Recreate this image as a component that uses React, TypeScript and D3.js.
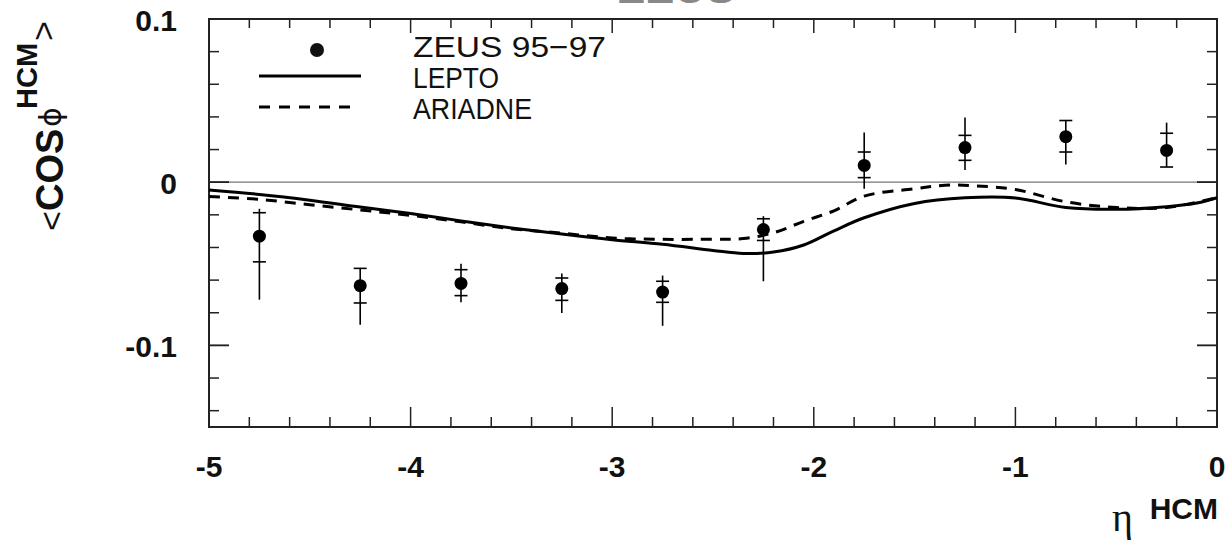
import React from "react";
import * as d3 from "d3";

// ---- data ----
const etaPts = [-4.75, -4.25, -3.75, -3.25, -2.75, -2.25, -1.75, -1.25, -0.75, -0.25];
const zeusVal = [-0.0331, -0.0634, -0.062, -0.0652, -0.0673, -0.029, 0.0103, 0.0212, 0.0279, 0.0195];
const statHi = [-0.0187, -0.0528, -0.0536, -0.0587, -0.0607, -0.0224, 0.0185, 0.0287, 0.0378, 0.03];
const statLo = [-0.0488, -0.074, -0.0695, -0.0724, -0.0736, -0.0357, 0.0028, 0.0134, 0.0185, 0.0093];
const totHi = [-0.0163, -0.0528, -0.0499, -0.056, -0.0572, -0.0208, 0.0304, 0.0396, 0.0378, 0.0365];
const totLo = [-0.072, -0.0874, -0.0736, -0.0802, -0.088, -0.0607, -0.004, 0.0074, 0.0109, 0.0093];

const leptoEta = [-5, -4.75, -4.5, -4.25, -4, -3.75, -3.5, -3.25, -3, -2.75, -2.5, -2.35, -2.2, -2.05, -1.9, -1.75, -1.5, -1.25, -1, -0.75, -0.5, -0.25, -0.1, 0];
const leptoVal = [-0.0048, -0.0075, -0.011, -0.0152, -0.0192, -0.0237, -0.028, -0.0318, -0.0352, -0.038, -0.0418, -0.0437, -0.0428, -0.0385, -0.0298, -0.0218, -0.013, -0.0096, -0.0097, -0.0155, -0.0166, -0.015, -0.0128, -0.0095];
const ariadneEta = [-5, -4.75, -4.5, -4.25, -4, -3.75, -3.5, -3.25, -3, -2.75, -2.5, -2.35, -2.2, -2.05, -1.9, -1.75, -1.5, -1.35, -1.2, -1, -0.75, -0.5, -0.25, 0];
const ariadneVal = [-0.0088, -0.0105, -0.0138, -0.017, -0.0203, -0.0243, -0.0285, -0.0312, -0.0342, -0.035, -0.0349, -0.0345, -0.031, -0.024, -0.0175, -0.0085, -0.004, -0.0019, -0.0022, -0.0045, -0.012, -0.0155, -0.0155, -0.0095];

const xMajor = [-5, -4, -3, -2, -1, 0];
const xMinor = d3.range(-5, 0.001, 0.2);
const yMajor = [0.1, 0, -0.1];
const yMinor = d3.range(-0.14, 0.1, 0.02);
const yLabels = ["0.1", "0", "-0.1"];
const legendItems = ["ZEUS 95\u221297", "LEPTO", "ARIADNE"];

const W = 1229, H = 551;
const L = 209, R = 1217, T = 19, B = 427;
const FONT = "'Liberation Sans', Arial, Helvetica, sans-serif";

export default function App() {
  const x = d3.scaleLinear().domain([-5, 0]).range([L, R]);
  const y = d3.scaleLinear().domain([-0.15, 0.1]).range([B, T]);
  const curve = d3.curveCatmullRom.alpha(0.5);
  const lineGen = d3.line<[number, number]>().x(d => x(d[0])).y(d => y(d[1])).curve(curve);
  const lepto = lineGen(leptoEta.map((e, i) => [e, leptoVal[i]]));
  const ariadne = lineGen(ariadneEta.map((e, i) => [e, ariadneVal[i]]));
  const isMajX = (v: number) => Math.abs(v - Math.round(v)) < 1e-6;
  const isMajY = (v: number) => yMajor.some(m => Math.abs(m - v) < 1e-6);

  return (
    <svg width={W} height={H} style={{ position: "absolute", left: 0, top: 0, background: "#fff" }}>
      <rect x={0} y={0} width={W} height={H} fill="#fff" />
      {/* title, clipped by the top edge as in the source */}
      <text x={618} y={3} fontFamily={FONT} fontWeight="bold" fontSize={44} fill="#888">ZEUS</text>

      {/* zero line */}
      <line x1={L} x2={R} y1={y(0)} y2={y(0)} stroke="#777" strokeWidth={1.2} />

      {/* ticks */}
      {xMinor.map((v, i) => {
        const len = isMajX(v) ? 20 : 10;
        const lenTop = isMajX(v) ? 14 : 9;
        return (
          <g key={"xt" + i} stroke="#222" strokeWidth={1.5}>
            <line x1={x(v)} x2={x(v)} y1={B} y2={B - len} />
            <line x1={x(v)} x2={x(v)} y1={T} y2={T + lenTop} />
          </g>
        );
      })}
      {yMinor.concat(yMajor).map((v, i) => {
        const len = isMajY(v) ? 20 : 10;
        return (
          <g key={"yt" + i} stroke="#222" strokeWidth={1.5}>
            <line x1={L} x2={L + len} y1={y(v)} y2={y(v)} />
            <line x1={R} x2={R - len} y1={y(v)} y2={y(v)} />
          </g>
        );
      })}

      {/* frame */}
      <rect x={L} y={T} width={R - L} height={B - T} fill="none" stroke="#222" strokeWidth={2} />

      {/* curves */}
      <path d={lepto || ""} fill="none" stroke="#000" strokeWidth={3} />
      <path d={ariadne || ""} fill="none" stroke="#000" strokeWidth={3} strokeDasharray="11,8" />

      {/* data */}
      {etaPts.map((e, i) => (
        <g key={"p" + i} stroke="#000" strokeWidth={1.6}>
          <line x1={x(e)} x2={x(e)} y1={y(totHi[i])} y2={y(totLo[i])} />
          <line x1={x(e) - 6.5} x2={x(e) + 6.5} y1={y(statHi[i])} y2={y(statHi[i])} />
          <line x1={x(e) - 6.5} x2={x(e) + 6.5} y1={y(statLo[i])} y2={y(statLo[i])} />
          <circle cx={x(e)} cy={y(zeusVal[i])} r={6.5} fill="#000" stroke="none" />
        </g>
      ))}

      {/* legend */}
      <circle cx={317} cy={50} r={7} fill="#111" />
      <line x1={259} x2={361} y1={76} y2={76} stroke="#000" strokeWidth={3} />
      <line x1={259} x2={352} y1={107} y2={107} stroke="#000" strokeWidth={3} strokeDasharray="11,9" />
      {legendItems.map((t, i) => (
        <text key={"lg" + i} x={413} y={57 + i * 30.8} fontFamily={FONT} fontSize={29}
          textLength={[193, 86, 119][i]} lengthAdjust="spacingAndGlyphs" fill="#111">{t}</text>
      ))}

      {/* y tick labels */}
      {yMajor.map((v, i) => (
        <text key={"yl" + i} x={177} y={y(v) + 12} textAnchor="end" fontFamily={FONT}
          fontWeight="bold" fontSize={30} fill="#111">{yLabels[i]}</text>
      ))}
      {/* x tick labels */}
      {xMajor.map((v, i) => (
        <text key={"xl" + i} x={x(v)} y={477} textAnchor="middle" fontFamily={FONT}
          fontWeight="bold" fontSize={30} fill="#111">{String(v)}</text>
      ))}

      {/* x axis label */}
      <text x={1112} y={531} fontFamily="'Liberation Serif', 'DejaVu Serif', serif" fontSize={40} fill="#111">{"\u03b7"}</text>
      <text x={1218} y={519} textAnchor="end" fontFamily={FONT} fontWeight="bold" fontSize={30} fill="#111">HCM</text>

      {/* y axis label */}
      <g transform="translate(63,231) rotate(-90)" fill="#111">
        <text x={0} y={0} fontFamily={FONT} fontSize={34}>{"<"}</text>
        <text x={20} y={0} fontFamily={FONT} fontWeight="bold" fontSize={38}>COS</text>
        <text x={104} y={-2} fontFamily="'DejaVu Sans', sans-serif" fontSize={30}>{"\u03d5"}</text>
        <text x={122} y={-26} fontFamily={FONT} fontWeight="bold" fontSize={29}>HCM</text>
        <text x={190} y={-8} fontFamily={FONT} fontSize={34}>{">"}</text>
      </g>
    </svg>
  );
}
